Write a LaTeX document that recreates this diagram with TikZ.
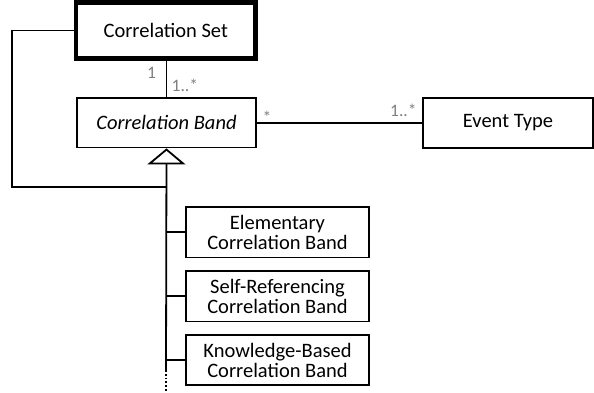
\documentclass[tikz,border=0pt]{standalone}
\usepackage{fontspec}
\setmainfont{Carlito}
\usetikzlibrary{arrows.meta}
\definecolor{multgray}{HTML}{7F7F7F}
\begin{document}
\begin{tikzpicture}[x=1pt,y=-1pt,
  classbox/.style={draw, line width=1.8pt, inner sep=0pt, align=center,
    font=\fontsize{20.5}{20}\selectfont},
  mult/.style={text=multgray, inner sep=0pt, font=\fontsize{17.5}{19}\selectfont},
  assoc/.style={line width=1.8pt}]
\useasboundingbox (0,0) rectangle (594,392);

% classes
\node[classbox, line width=4.5pt, minimum width=179.5pt, minimum height=56pt]
  (cs) at (165.75,30.5) {Correlation Set};
\node[classbox, minimum width=179pt, minimum height=49.5pt]
  (cb) at (166.5,122.75) {\itshape Correlation Band};
\node[classbox, minimum width=170pt, minimum height=50pt]
  (et) at (508,122.75) {Event Type};
\node[classbox, minimum width=183pt, minimum height=50.5pt]
  (el) at (277.5,232.25) {Elementary\\Correlation Band};
\node[classbox, minimum width=183pt, minimum height=50.5pt]
  (sr) at (277.5,296.25) {Self-Referencing\\Correlation Band};
\node[classbox, minimum width=183pt, minimum height=50.5pt]
  (kb) at (277.5,360) {Knowledge-Based\\Correlation Band};

% associations
\draw[assoc] (cs.south -| cb.north) -- (cb.north);
\draw[assoc] (cb.east) -- (et.west);

% multiplicities
\node[mult, anchor=base west] (m1) at (147,78.5) {1};
\node[mult, anchor=base west] (m2) at (171.5,91.5) {1..*};
\node[mult, anchor=base west] (m3) at (262.5,123.5) {*};
\node[mult, anchor=base west] (m4) at (390,116.5) {1..*};

% generalization trunk
\coordinate (loopjoin) at (166,187);
\coordinate (trunkend) at (166,370);
\coordinate (dotend) at (166,392);
\draw[assoc, -{Triangle[open, length=16pt, width=38pt, line width=1.8pt]}]
  (trunkend) -- (cb.south);
\draw[assoc, dotted] (trunkend) -- (dotend);
\draw[assoc] (cs.west) -| (12,187) -- (loopjoin);
\draw[assoc] (el.west) -- (el.west -| loopjoin);
\draw[assoc] (sr.west) -- (sr.west -| loopjoin);
\draw[assoc] (kb.west) -- (kb.west -| loopjoin);
\end{tikzpicture}
\end{document}
